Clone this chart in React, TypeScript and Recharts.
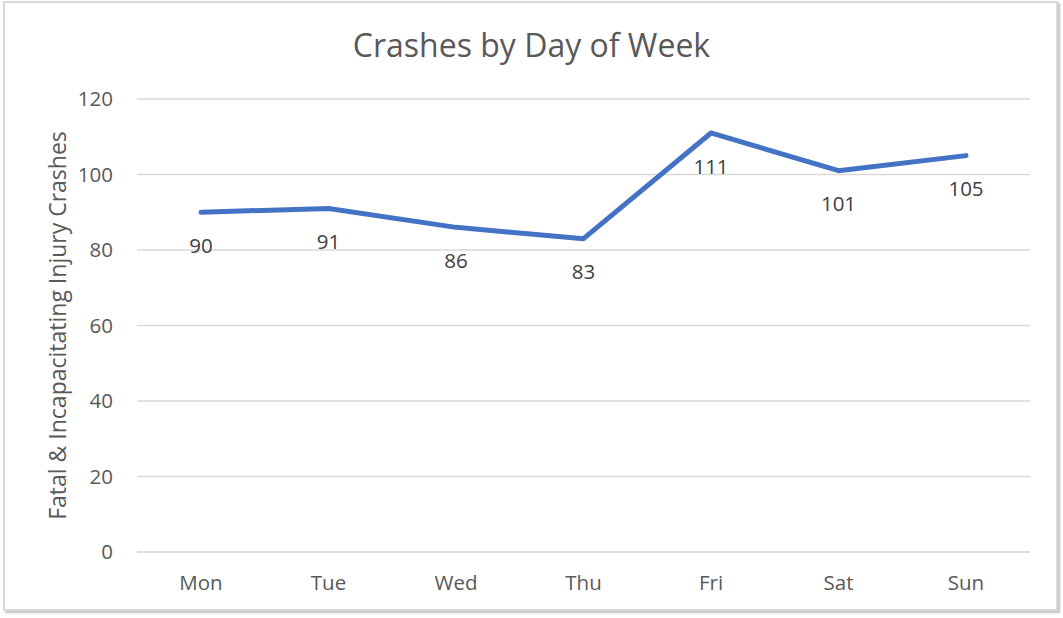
import React from 'react';
import { LineChart, Line, XAxis, YAxis, CartesianGrid, LabelList } from 'recharts';

const days = ['Mon', 'Tue', 'Wed', 'Thu', 'Fri', 'Sat', 'Sun'];
const crashes = [90, 91, 86, 83, 111, 101, 105];
const yTicks = [0, 20, 40, 60, 80, 100, 120];

const data = days.map((d, i) => ({ day: d, value: crashes[i] }));

const FONT = '"Open Sans", "Noto Sans", sans-serif';

const YLabel = (props: any) => {
  const vb = props.viewBox || {};
  const cy = vb.y + vb.height / 2;
  return (
    <text
      x={57}
      y={cy}
      transform={`rotate(-90, 57, ${cy})`}
      textAnchor="middle"
      dominantBaseline="central"
      fill="#595959"
      fontSize={23}
      fontFamily={FONT}
    >
      Fatal &amp; Incapacitating Injury Crashes
    </text>
  );
};

export default function App() {
  return (
    <div style={{ position: 'absolute', left: 0, top: 0, width: 1063, height: 618, background: '#fff' }}>
      <div
        style={{
          position: 'absolute',
          left: 3,
          top: 1,
          width: 1055,
          height: 610,
          border: '2px solid #d9d9d9',
          boxShadow: '2px 2px 2px rgba(0,0,0,0.25)',
          boxSizing: 'border-box',
        }}
      />
      <div
        style={{
          position: 'absolute',
          left: 0,
          top: 24,
          width: 1063,
          textAlign: 'center',
          fontFamily: FONT,
          fontSize: 32,
          color: '#595959',
          lineHeight: '42px',
        }}
      >
        Crashes by Day of Week
      </div>
      <div style={{ position: 'absolute', left: 0, top: 0 }}>
        <LineChart width={1063} height={618} data={data} margin={{ top: 99, right: 33, bottom: 36, left: 57 }}>
          <CartesianGrid vertical={false} stroke="#d9d9d9" strokeWidth={1.5} />
          <XAxis
            dataKey="day"
            height={30}
            padding={{ left: 64, right: 64 }}
            axisLine={{ stroke: '#d9d9d9', strokeWidth: 1.5 }}
            tickLine={false}
            tickMargin={17}
            tick={{ fill: '#595959', fontSize: 20.5, fontFamily: FONT }}
          />
          <YAxis
            width={80}
            domain={[0, 120]}
            ticks={yTicks}
            axisLine={false}
            tickLine={false}
            tickMargin={18}
            tick={{ fill: '#595959', fontSize: 20.5, fontFamily: FONT }}
            label={<YLabel />}
          />
          <Line
            type="linear"
            dataKey="value"
            stroke="#4472C4"
            strokeWidth={5}
            strokeLinecap="round"
            strokeLinejoin="round"
            dot={false}
            activeDot={false}
            isAnimationActive={false}
          >
            <LabelList
              dataKey="value"
              position="bottom"
              offset={26}
              fill="#404040"
              fontSize={20.5}
              fontFamily={FONT}
            />
          </Line>
        </LineChart>
      </div>
    </div>
  );
}
